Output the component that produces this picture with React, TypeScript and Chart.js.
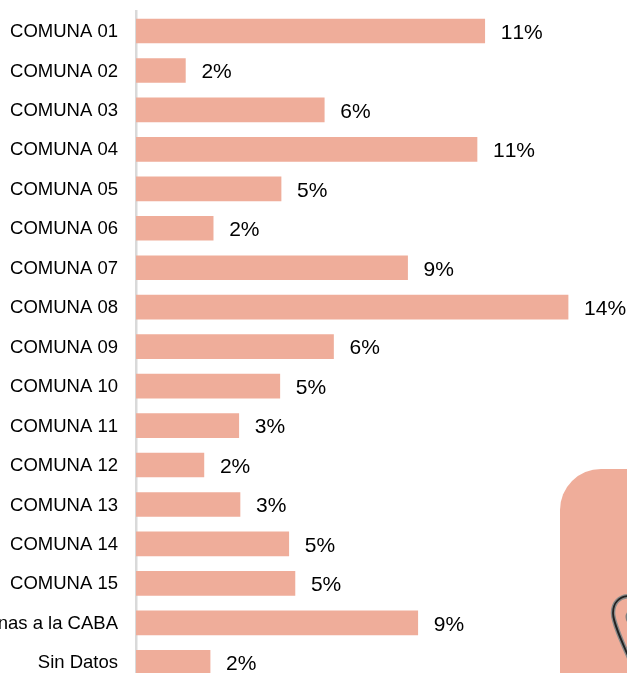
import React, { useEffect, useRef } from "react";
import { Chart, registerables } from "chart.js";

Chart.register(...registerables);

const categories = [
  "COMUNA 01", "COMUNA 02", "COMUNA 03", "COMUNA 04", "COMUNA 05", "COMUNA 06",
  "COMUNA 07", "COMUNA 08", "COMUNA 09", "COMUNA 10", "COMUNA 11", "COMUNA 12",
  "COMUNA 13", "COMUNA 14", "COMUNA 15", "Ajenas a la CABA", "Sin Datos",
];
const values = [11.3, 1.6, 6.1, 11.05, 4.7, 2.5, 8.8, 14, 6.4, 4.66, 3.33, 2.2, 3.37, 4.95, 5.15, 9.13, 2.4];
const valueLabels = ["11%", "2%", "6%", "11%", "5%", "2%", "9%", "14%", "6%", "5%", "3%", "2%", "3%", "5%", "5%", "9%", "2%"];
const xMax = 15.91;
const SALMON = "#EFAD9A";
const FONT = "'Liberation Sans', Arial, sans-serif";

const noKerning = {
  id: "noKerning",
  beforeDraw(chart: any) {
    chart.ctx.fontKerning = "none";
  },
};

const barLabels = {
  id: "barLabels",
  afterDatasetsDraw(chart: any) {
    const { ctx } = chart;
    const meta = chart.getDatasetMeta(0);
    ctx.save();
    ctx.font = `21px ${FONT}`;
    ctx.fillStyle = "#000";
    ctx.textAlign = "left";
    ctx.textBaseline = "middle";
    meta.data.forEach((bar: any, i: number) => {
      ctx.fillText(valueLabels[i], bar.x + 16, bar.y + 2);
    });
    ctx.restore();
  },
};

export default function App() {
  const ref = useRef<HTMLCanvasElement>(null);
  useEffect(() => {
    document.body.style.margin = "0";
    document.body.style.overflow = "hidden";
    const chart = new Chart(ref.current!, {
      type: "bar",
      data: {
        labels: categories,
        datasets: [{ data: values, backgroundColor: SALMON, barThickness: 24, borderWidth: 0 }],
      },
      options: {
        indexAxis: "y",
        animation: false,
        responsive: false,
        layout: { autoPadding: false, padding: { top: 11.3, right: 0, bottom: 0, left: 0 } },
        plugins: { legend: { display: false }, tooltip: { enabled: false } },
        scales: {
          x: { display: false, min: 0, max: xMax },
          y: {
            afterFit(scale: any) {
              scale.width = 136;
              scale.paddingTop = 0;
              scale.paddingBottom = 0;
            },
            grid: { display: false, drawTicks: false },
            border: { display: true, color: "#D9D9D9", width: 2.5 },
            ticks: {
              autoSkip: false,
              color: "#000",
              padding: 18,
              labelOffset: 1,
              font: { family: FONT, size: 18.5 },
            },
          },
        },
      },
      plugins: [noKerning, barLabels],
    } as any);
    return () => chart.destroy();
  }, []);
  return (
    <div style={{ position: "fixed", left: 0, top: 0, width: 627, height: 673, overflow: "hidden", background: "#fff" }}>
      <canvas ref={ref} width={627} height={682} style={{ display: "block", width: 627, height: 682 }} />
      <svg width={627} height={673} style={{ position: "absolute", left: 0, top: 0 }}>
        <rect x={560} y={469} width={140} height={260} rx={41} ry={41} fill={SALMON} />
        <path d="M 630 596 C 619 596 613 603 613 613 C 613 622 621 640 630 660" fill="none" stroke="#8a8a8a" strokeWidth={4.5} />
        <path d="M 630 596 C 619 596 613 603 613 613 C 613 622 621 640 630 660" fill="none" stroke="#222" strokeWidth={1.8} />
        <circle cx={634} cy={617} r={8.5} fill="#808080" />
      </svg>
    </div>
  );
}
